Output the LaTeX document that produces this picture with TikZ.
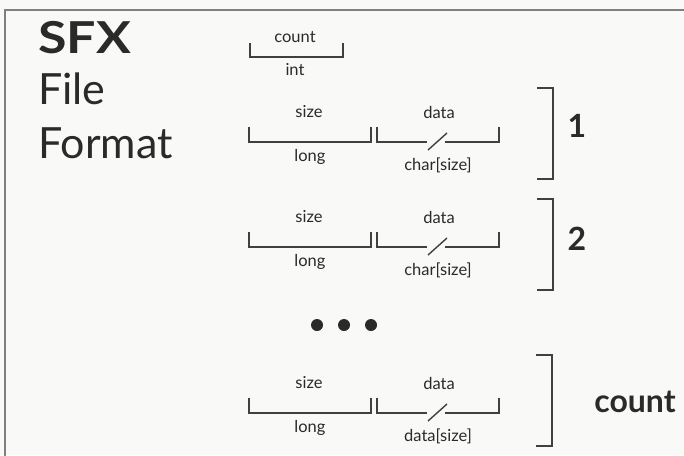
\documentclass[tikz,border=0pt]{standalone}
\usepackage{fontspec}
\setmainfont{Lato}
\definecolor{ink}{HTML}{2A2A2A}
\definecolor{rulec}{HTML}{404040}
\definecolor{paper}{HTML}{F9F9F8}
\definecolor{framec}{HTML}{808080}
\newcommand{\fieldrow}[3]{%
  % #1 = vertical offset, #2 = type label of data, #3 = name prefix
  \node[lbl] (#3size) at (309,112+#1) {size};
  \node[lbl] (#3long) at (310,157+#1) {long};
  \node[lbl] (#3data) at (439,112+#1) {data};
  \node[lbl] (#3type) at (438,165+#1) {#2};
  \draw[brk] (249,127+#1) -- (249,142+#1) -- (371,142+#1) -- (371,127+#1);
  \draw[brk] (377,127+#1) -- (377,142+#1) -- (427,142+#1);
  \draw[brk] (445,142+#1) -- (499,142+#1) -- (499,127+#1);
  \draw[brk] (428,150+#1) -- (447,133+#1);
}
\begin{document}
\begin{tikzpicture}[x=1pt,y=-1pt,
  lbl/.style={font=\fontsize{16.5}{18}\selectfont, text=ink, inner sep=0pt},
  title/.style={font=\fontsize{43}{46}\selectfont, text=ink, inner sep=0pt, anchor=base west},
  num/.style={font=\fontsize{32}{34}\selectfont\bfseries, text=ink, inner sep=0pt},
  brk/.style={draw=rulec, line width=1.4pt},
  grp/.style={draw=rulec, line width=1.5pt},
  dot/.style={fill=ink, draw=none}]
\useasboundingbox (0,0) rectangle (684,455);
\fill[paper] (0,0) rectangle (684,455);
\draw[draw=framec, line width=2pt] (5,458) -- (5,10) -- (688,10);

% title
\node[title, font=\fontsize{44}{46}\selectfont\bfseries, xscale=1.18] (t1) at (38,53) {SFX};
\node[title] (t2) at (38,104) {File};
\node[title] (t3) at (38,158) {Format};

% count field
\node[lbl] (cnt) at (295,37) {count};
\node[lbl] (int) at (295,70) {int};
\draw[brk] (250,43) -- (250,57) -- (343,57) -- (343,43);

% records
\fieldrow{0}{char[size]}{a}
\fieldrow{105}{char[size]}{b}
\fieldrow{271}{data[size]}{c}

% group brackets
\draw[grp] (537,88) -- (553,88) -- (553,179) -- (537,179);
\draw[grp] (537,199) -- (553,199) -- (553,290) -- (537,290);
\draw[grp] (536,355) -- (552,355) -- (552,446) -- (536,446);
\node[num] (n1) at (577,126) {1};
\node[num] (n2) at (577,239) {2};
\node[num] (n3) at (635,402) {count};

% ellipsis
\fill[dot] (317,325) circle (6);
\fill[dot] (344,325) circle (6);
\fill[dot] (371,325) circle (6);
\end{tikzpicture}
\end{document}
